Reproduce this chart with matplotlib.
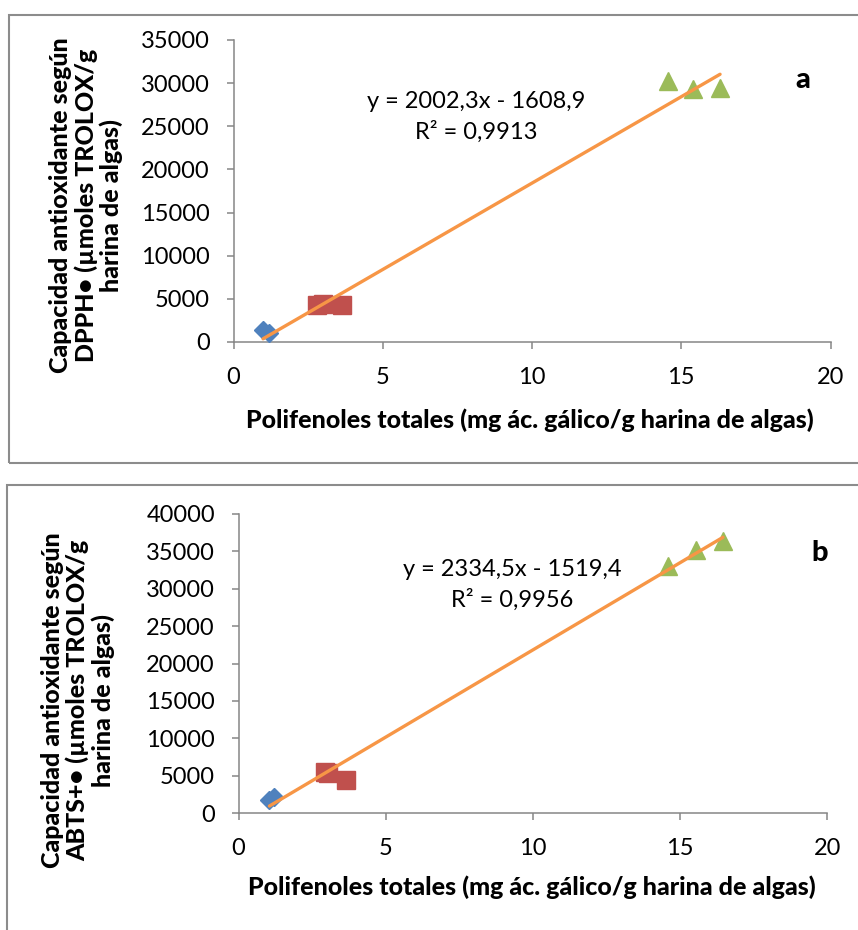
import matplotlib
matplotlib.use("Agg")
import matplotlib.pyplot as plt
from matplotlib.patches import Rectangle
import numpy as np

plt.rcParams['font.family'] = ['Lato', 'DejaVu Sans']

W, H = 858, 930

# ---------------- data ----------------
# Chart a (DPPH)
a_blue_x = [0.99, 1.2]
a_blue_y = [1400, 1000]
a_red_x = [2.8, 3.0, 3.65]
a_red_y = [4300, 4400, 4300]
a_green_x = [14.55, 15.4, 16.3]
a_green_y = [30250, 29350, 29450]
a_slope, a_intercept = 2002.3, -1608.9
a_eq = "y = 2002,3x - 1608,9"
a_r2 = "R² = 0,9913"

# Chart b (ABTS)
b_blue_x = [1.05, 1.2]
b_blue_y = [1750, 2100]
b_red_x = [2.95, 3.05, 3.65]
b_red_y = [5450, 5300, 4400]
b_green_x = [14.6, 15.55, 16.45]
b_green_y = [33000, 35200, 36400]
b_slope, b_intercept = 2334.5, -1519.4
b_eq = "y = 2334,5x - 1519,4"
b_r2 = "R² = 0,9956"

x_ticks = [0, 5, 10, 15, 20]
a_yticks = list(range(0, 35001, 5000))
b_yticks = list(range(0, 40001, 5000))

xlabel = "Polifenoles totales (mg ác. gálico/g harina de algas)"
a_ylabel = "Capacidad antioxidante según\nDPPH• (µmoles TROLOX/g\nharina de algas)"
b_ylabel = "Capacidad antioxidante según\nABTS+• (µmoles TROLOX/g\nharina de algas)"

BLUE = "#4F81BD"
RED = "#C0504D"
GREEN = "#9BBB59"
ORANGE = "#F79646"
GRAY = "#868686"

TICK_FS = 17
LABEL_FS = 18
EQ_FS = 17
BOLDW = 900

fig = plt.figure(figsize=(W / 100, H / 100), dpi=100)


def fx(x):
    return x / W


def fy(y):
    return 1 - y / H


def make_axes(x0, x1, ytop, ybot):
    return fig.add_axes([fx(x0), fy(ybot), fx(x1) - fx(x0), (ybot - ytop) / H])


def style(ax, yticks, ymax, xpad):
    ax.set_xlim(0, 20)
    ax.set_ylim(0, ymax)
    ax.set_xticks(x_ticks)
    ax.set_yticks(yticks)
    for s in ['top', 'right']:
        ax.spines[s].set_visible(False)
    for s in ['left', 'bottom']:
        ax.spines[s].set_color(GRAY)
        ax.spines[s].set_linewidth(1.1)
    ax.tick_params(axis='both', colors=GRAY, length=5, width=1.1, labelcolor='black',
                   labelsize=TICK_FS)
    ax.tick_params(axis='y', pad=12)
    ax.tick_params(axis='x', pad=xpad)
    ax.set_facecolor('none')


def draw(ax, bx, by, rx, ry, gx, gy, slope, intercept):
    ax.plot(bx, by, linestyle='none', marker='D', markersize=9, color=BLUE, clip_on=False, zorder=3)
    ax.plot(rx, ry, linestyle='none', marker='s', markersize=12.5, color=RED, clip_on=False, zorder=3)
    ax.plot(gx, gy, linestyle='none', marker='^', markersize=13, color=GREEN, clip_on=False, zorder=3)
    allx = np.array(bx + rx + gx)
    xs = np.array([allx.min(), allx.max()])
    ax.plot(xs, slope * xs + intercept, color=ORANGE, linewidth=2.4, zorder=4, solid_capstyle='round')


# frames
fig.add_artist(Rectangle((fx(9), fy(463)), fx(900) - fx(9), (463 - 15) / H,
                         transform=fig.transFigure, fill=False, edgecolor='#8c8c8c', linewidth=1.5))
fig.add_artist(Rectangle((fx(7), fy(960)), fx(900) - fx(7), (960 - 485) / H,
                         transform=fig.transFigure, fill=False, edgecolor='#8c8c8c', linewidth=1.5))

# chart a
axa = make_axes(233.5, 830.5, 40, 342)
style(axa, a_yticks, 35000, 13)
draw(axa, a_blue_x, a_blue_y, a_red_x, a_red_y, a_green_x, a_green_y, a_slope, a_intercept)

fig.text(fx(530), fy(420), xlabel, ha='center', va='center', fontsize=LABEL_FS, fontweight=BOLDW)
fig.text(fx(86), fy(205), a_ylabel, ha='center', va='center', rotation=90, fontsize=LABEL_FS,
         fontweight=BOLDW, multialignment='center', linespacing=1.1)
fig.text(fx(476), fy(102), a_eq, ha='center', va='center', fontsize=EQ_FS)
fig.text(fx(476), fy(132), a_r2, ha='center', va='center', fontsize=EQ_FS)
fig.text(fx(803), fy(80), "a", ha='center', va='center', fontsize=21, fontweight=BOLDW)

# chart b
axb = make_axes(238.5, 827.5, 514, 813)
style(axb, b_yticks, 40000, 13)
draw(axb, b_blue_x, b_blue_y, b_red_x, b_red_y, b_green_x, b_green_y, b_slope, b_intercept)

fig.text(fx(532), fy(887), xlabel, ha='center', va='center', fontsize=LABEL_FS, fontweight=BOLDW)
fig.text(fx(78), fy(700), b_ylabel, ha='center', va='center', rotation=90, fontsize=LABEL_FS,
         fontweight=BOLDW, multialignment='center', linespacing=1.1)
fig.text(fx(512), fy(570), b_eq, ha='center', va='center', fontsize=EQ_FS)
fig.text(fx(512), fy(600), b_r2, ha='center', va='center', fontsize=EQ_FS)
fig.text(fx(820), fy(553), "b", ha='center', va='center', fontsize=21, fontweight=BOLDW)

fig.savefig("out.png", dpi=100, facecolor='white')
